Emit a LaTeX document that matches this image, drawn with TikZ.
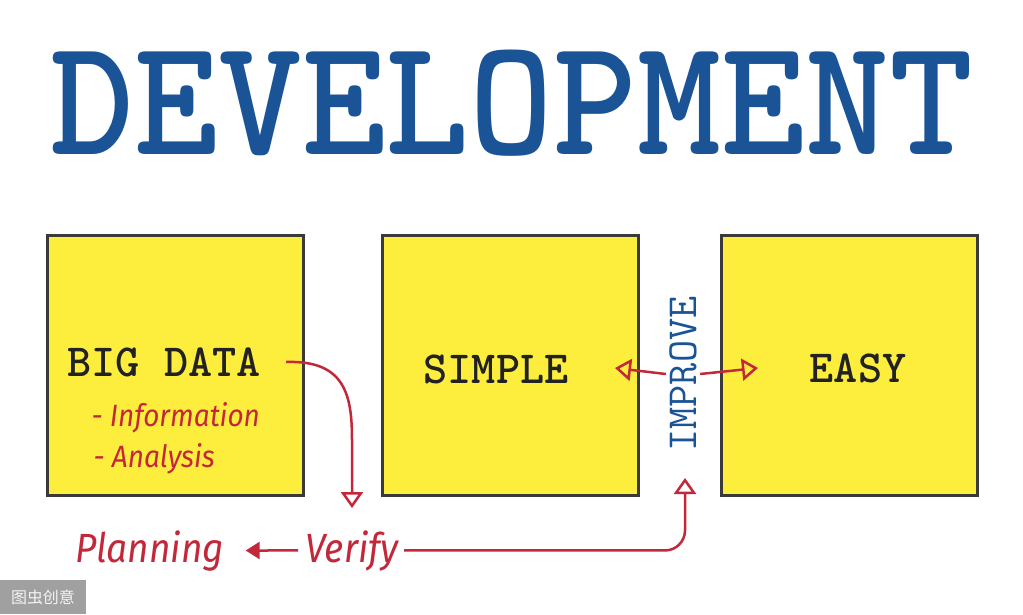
\documentclass[tikz,border=0pt]{standalone}
\usepackage{fontspec}
\newfontfamily\handfont{Fira Sans}
\newfontfamily\cjk{Noto Sans CJK SC}
\usepackage{tikz}
\usetikzlibrary{calc,positioning,arrows.meta}
\usepackage{xcolor}
\definecolor{noteyellow}{HTML}{FDEE3E}
\definecolor{boxgray}{HTML}{3A3A3A}
\definecolor{penred}{HTML}{C3283A}
\definecolor{inkblue}{HTML}{1A5497}
\definecolor{inkblack}{HTML}{222222}
\definecolor{wmgray}{HTML}{A0A0A0}

\begin{document}
\begin{tikzpicture}[x=1pt,y=-1pt,
	note/.style = {draw=boxgray, line width=3pt, fill=noteyellow, minimum width=256pt, minimum height=260pt},
	boxtext/.style = {text=inkblack, font=\ttfamily\bfseries\fontsize{46}{46}\selectfont},
	hand/.style = {text=penred, font=\handfont\itshape\fontsize{28}{28}\selectfont, yscale=1.1},
	redarrow/.style = {draw=penred, line width=2.5pt, -{Triangle[open, length=16pt, width=22pt]}},
	redsolid/.style = {draw=penred, line width=2.5pt, -{Triangle[length=14pt, width=17pt]}}]
	\useasboundingbox[fill=white] (0,0) rectangle (1023,614);
	\node[text=inkblue, font=\ttfamily\bfseries\addfontfeatures{FakeBold=6}\fontsize{160}{160}\selectfont, yscale=1.05] (title) at (512,103) {DEVELOPMENT};
	\node[note] (bigdata) at (175,365) {};
	\node[note] (simple) at (510.5,365) {};
	\node[note] (easy) at (849,365) {};
	\node[boxtext] (bigtext) at (164,362) {BIG DATA};
	\node[boxtext] (simpletext) at (496,369) {SIMPLE};
	\node[boxtext] (easytext) at (858,368) {EASY};
	\node[hand, anchor=west] (info) at (88,418) {- Information};
	\node[hand, anchor=west] (analysis) at (90,459) {- Analysis};
	\node[hand, font=\handfont\itshape\fontsize{37}{37}\selectfont, yscale=1, anchor=base west] (planning) at (72,562) {Planning};
	\node[hand, font=\handfont\itshape\fontsize{37}{37}\selectfont, yscale=1, anchor=base west] (verify) at (302,562) {Verify};
	\node[text=inkblue, font=\ttfamily\fontsize{43}{43}\selectfont, rotate=90] (improve) at (683,374) {IMPROVE};
	\node[fill=wmgray, text=white!88!wmgray, font=\cjk\fontsize{16}{16}\selectfont, minimum width=86pt, minimum height=34pt, inner sep=0pt] (wm) at (43,597) {图虫创意};
	\coordinate (drop) at (352,508);
	\coordinate (rise) at (685,478);
	\coordinate (lefttip) at (615,368);
	\coordinate (righttip) at (758,368);
	\draw[redarrow] ([xshift=22pt]bigtext.east) .. controls (345,360) and (352,395) .. (352,440) -- (drop);
	\draw[redsolid, shorten <=4pt, shorten >=18pt] (verify.west) -- (planning.east);
	\draw[redarrow, rounded corners=20pt] ([xshift=2pt]verify.east) -- (verify.east -| rise) -- (rise);
	\draw[redarrow] (improve.north) -- (lefttip);
	\draw[redarrow] (improve.south) -- (righttip);
\end{tikzpicture}
\end{document}
